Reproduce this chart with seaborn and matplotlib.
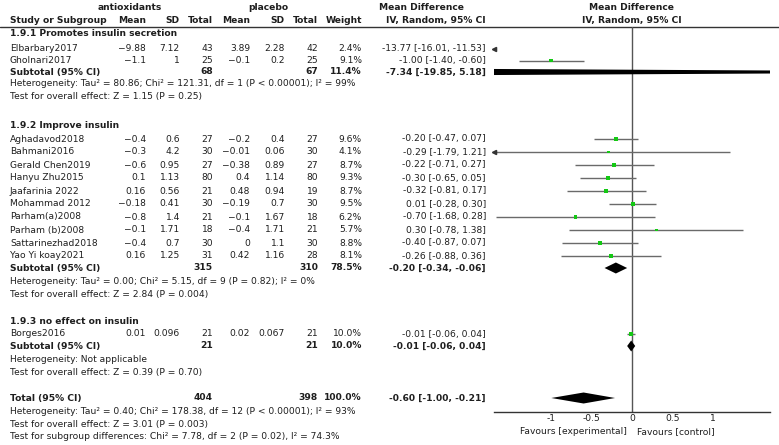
import numpy as np
import pandas as pd
import matplotlib
matplotlib.use("Agg")
import matplotlib.pyplot as plt
import seaborn as sns

# Data
GROUPS = ["1.9.1 Promotes insulin secretion", "1.9.2 Improve insulin", "1.9.3 no effect on insulin"]
STUDIES = ["Elbarbary2017", "Gholnari2017",
           "Aghadavod2018", "Bahmani2016", "Gerald Chen2019", "Hanyu Zhu2015", "Jaafarinia 2022",
           "Mohammad 2012", "Parham(a)2008", "Parham (b)2008", "Sattarinezhad2018", "Yao Yi koay2021",
           "Borges2016"]
ANT_MEAN = [-9.88, -1.1, -0.4, -0.3, -0.6, 0.1, 0.16, -0.18, -0.8, -0.1, -0.4, 0.16, 0.01]
ANT_SD = [7.12, 1, 0.6, 4.2, 0.95, 1.13, 0.56, 0.41, 1.4, 1.71, 0.7, 1.25, 0.096]
ANT_N = [43, 25, 27, 30, 27, 80, 21, 30, 21, 18, 30, 31, 21]
PLA_MEAN = [3.89, -0.1, -0.2, -0.01, -0.38, 0.4, 0.48, -0.19, -0.1, -0.4, 0, 0.42, 0.02]
PLA_SD = [2.28, 0.2, 0.4, 0.06, 0.89, 1.14, 0.94, 0.7, 1.67, 1.71, 1.1, 1.16, 0.067]
PLA_N = [42, 25, 27, 30, 27, 80, 19, 30, 18, 21, 30, 28, 21]
WEIGHT = [2.4, 9.1, 9.6, 4.1, 8.7, 9.3, 8.7, 9.5, 6.2, 5.7, 8.8, 8.1, 10.0]
MD = [-13.77, -1.00, -0.20, -0.29, -0.22, -0.30, -0.32, 0.01, -0.70, 0.30, -0.40, -0.26, -0.01]
MD_LO = [-16.01, -1.40, -0.47, -1.79, -0.71, -0.65, -0.81, -0.28, -1.68, -0.78, -0.87, -0.88, -0.06]
MD_HI = [-11.53, -0.60, 0.07, 1.21, 0.27, 0.05, 0.17, 0.30, 0.28, 1.38, 0.07, 0.36, 0.04]

SUB_ANT_N = [68, 315, 21]
SUB_PLA_N = [67, 310, 21]
SUB_WEIGHT = [11.4, 78.5, 10.0]
SUB_MD = [-7.34, -0.20, -0.01]
SUB_LO = [-19.85, -0.34, -0.06]
SUB_HI = [5.18, -0.06, 0.04]
SUB_HET = ["Heterogeneity: Tau\u00b2 = 80.86; Chi\u00b2 = 121.31, df = 1 (P < 0.00001); I\u00b2 = 99%",
           "Heterogeneity: Tau\u00b2 = 0.00; Chi\u00b2 = 5.15, df = 9 (P = 0.82); I\u00b2 = 0%",
           "Heterogeneity: Not applicable"]
SUB_TEST = ["Test for overall effect: Z = 1.15 (P = 0.25)",
            "Test for overall effect: Z = 2.84 (P = 0.004)",
            "Test for overall effect: Z = 0.39 (P = 0.70)"]

TOT_ANT_N, TOT_PLA_N, TOT_WEIGHT = 404, 398, 100.0
TOT_MD, TOT_LO, TOT_HI = -0.60, -1.00, -0.21
TOT_LINES = ["Heterogeneity: Tau\u00b2 = 0.40; Chi\u00b2 = 178.38, df = 12 (P < 0.00001); I\u00b2 = 93%",
             "Test for overall effect: Z = 3.01 (P = 0.003)",
             "Test for subgroup differences: Chi\u00b2 = 7.78, df = 2 (P = 0.02), I\u00b2 = 74.3%"]
TICKS = [-1, -0.5, 0, 0.5, 1]
XLIM = (-1.71, 1.71)

# Layout (pixel rows)
W, H = 779, 445
LX = 10
GROUP_Y = [34, 125, 321]
STUDY_Y = [48.5, 60.5, 139, 152, 165, 178, 191, 204, 217, 230, 243, 256, 334]
SUB_Y = [72, 268, 346]
HET_Y = [84, 282, 359.5]
TEST_Y = [97, 294.5, 372]
TOT_Y = 398
TOT_LINES_Y = [411, 424, 436.5]
COL_X = dict(mean1=146, sd1=180, n1=213, mean2=250, sd2=285, n2=318, w=362, md=486)

FS = 6.6
TXT = "#1e1e1e"


def num(v):
    return f"{v:g}".replace("-", "\u2212")


def ci(m, lo, hi):
    return f"{m:.2f} [{lo:.2f}, {hi:.2f}]"


sns.set_style("white")
plt.rcParams["font.family"] = ["DejaVu Sans"]
plt.rcParams["font.size"] = FS

fig = plt.figure(figsize=(W / 100, H / 100), dpi=100)
ax = fig.add_axes([0, 0, 1, 1])
ax.set_xlim(0, W)
ax.set_ylim(H, 0)
ax.axis("off")


def put(x, y, s, ha="right", bold=False):
    ax.text(x, y, s, ha=ha, va="center", fontsize=FS, color=TXT,
            fontweight="bold" if bold else "normal")


# headers
put(130, 7.5, "antioxidants", ha="center", bold=True)
put(268, 7.5, "placebo", ha="center", bold=True)
put(422, 7.5, "Mean Difference", ha="center", bold=True)
put(632, 7.5, "Mean Difference", ha="center", bold=True)
put(LX, 20.5, "Study or Subgroup", ha="left", bold=True)
for key, lab in [("mean1", "Mean"), ("sd1", "SD"), ("n1", "Total"), ("mean2", "Mean"),
                 ("sd2", "SD"), ("n2", "Total"), ("w", "Weight")]:
    put(COL_X[key], 20.5, lab, bold=True)
put(436, 20.5, "IV, Random, 95% CI", ha="center", bold=True)
put(632, 20.5, "IV, Random, 95% CI", ha="center", bold=True)
ax.plot([0, W], [26.5, 26.5], color="#333333", lw=1.0)

# study rows
for i, name in enumerate(STUDIES):
    y = STUDY_Y[i]
    put(LX, y, name, ha="left")
    put(COL_X["mean1"], y, num(ANT_MEAN[i]))
    put(COL_X["sd1"], y, num(ANT_SD[i]))
    put(COL_X["n1"], y, str(ANT_N[i]))
    put(COL_X["mean2"], y, num(PLA_MEAN[i]))
    put(COL_X["sd2"], y, num(PLA_SD[i]))
    put(COL_X["n2"], y, str(PLA_N[i]))
    put(COL_X["w"], y, f"{WEIGHT[i]:.1f}%")
    put(COL_X["md"], y, ci(MD[i], MD_LO[i], MD_HI[i]))

# subgroup rows
for g, title in enumerate(GROUPS):
    put(LX, GROUP_Y[g], title, ha="left", bold=True)
    put(LX, SUB_Y[g], "Subtotal (95% CI)", ha="left", bold=True)
    put(COL_X["n1"], SUB_Y[g], str(SUB_ANT_N[g]), bold=True)
    put(COL_X["n2"], SUB_Y[g], str(SUB_PLA_N[g]), bold=True)
    put(COL_X["w"], SUB_Y[g], f"{SUB_WEIGHT[g]:.1f}%", bold=True)
    put(COL_X["md"], SUB_Y[g], ci(SUB_MD[g], SUB_LO[g], SUB_HI[g]), bold=True)
    put(LX, HET_Y[g], SUB_HET[g], ha="left")
    put(LX, TEST_Y[g], SUB_TEST[g], ha="left")

put(LX, TOT_Y, "Total (95% CI)", ha="left", bold=True)
put(COL_X["n1"], TOT_Y, str(TOT_ANT_N), bold=True)
put(COL_X["n2"], TOT_Y, str(TOT_PLA_N), bold=True)
put(COL_X["w"], TOT_Y, f"{TOT_WEIGHT:.1f}%", bold=True)
put(COL_X["md"], TOT_Y, ci(TOT_MD, TOT_LO, TOT_HI), bold=True)
for s, y in zip(TOT_LINES, TOT_LINES_Y):
    put(LX, y, s, ha="left")

put(627, 432, "Favours [experimental]")
put(637, 432, "Favours [control]", ha="left")

# forest panel: same pixel rows on y, mean difference on x
top, bot = 26.5, 411.7
fx0, fx1 = 494, 770
fa = fig.add_axes([fx0 / W, (H - bot) / H, (fx1 - fx0) / W, (bot - top) / H])
fa.set_xlim(*XLIM)
fa.set_ylim(bot, top)
fa.patch.set_alpha(0)
for side in ["top", "left", "right"]:
    fa.spines[side].set_visible(False)
fa.spines["bottom"].set_color("#333333")
fa.spines["bottom"].set_linewidth(1.0)
fa.set_yticks([])
fa.set_xticks(TICKS)
fa.set_xticklabels([f"{t:g}" for t in TICKS])
fa.tick_params(axis="x", direction="in", length=4, width=0.8, color="#333333",
               pad=2, labelsize=FS, labelcolor=TXT)
fa.axvline(0, color="#555555", lw=1.0, zorder=1)

df = pd.DataFrame({"md": MD, "lo": MD_LO, "hi": MD_HI, "w": WEIGHT, "y": STUDY_Y})
fa.hlines(df["y"], np.clip(df["lo"], *XLIM), np.clip(df["hi"], *XLIM),
          color="#6a6a6a", lw=1.0, zorder=2)
left_out = df[df["lo"] < XLIM[0]]
fa.plot([XLIM[0]] * len(left_out), left_out["y"], ls="none", marker="<",
        ms=3, color="#333333", clip_on=False, zorder=3)
inside = df[(df["md"] > XLIM[0]) & (df["md"] < XLIM[1])]
sns.scatterplot(data=inside, x="md", y="y", size="w", sizes=(3, 8), marker="s",
                color="#14c814", edgecolor="none", legend=False, ax=fa, zorder=4)
fa.set_xlabel("")
fa.set_ylabel("")

half = 5.5
for m, lo, hi, y in zip(SUB_MD + [TOT_MD], SUB_LO + [TOT_LO], SUB_HI + [TOT_HI], SUB_Y + [TOT_Y]):
    fa.fill([lo, m, hi, m], [y, y - half, y, y + half], color="black", lw=0, zorder=5)

fig.savefig("out.png", dpi=100)
